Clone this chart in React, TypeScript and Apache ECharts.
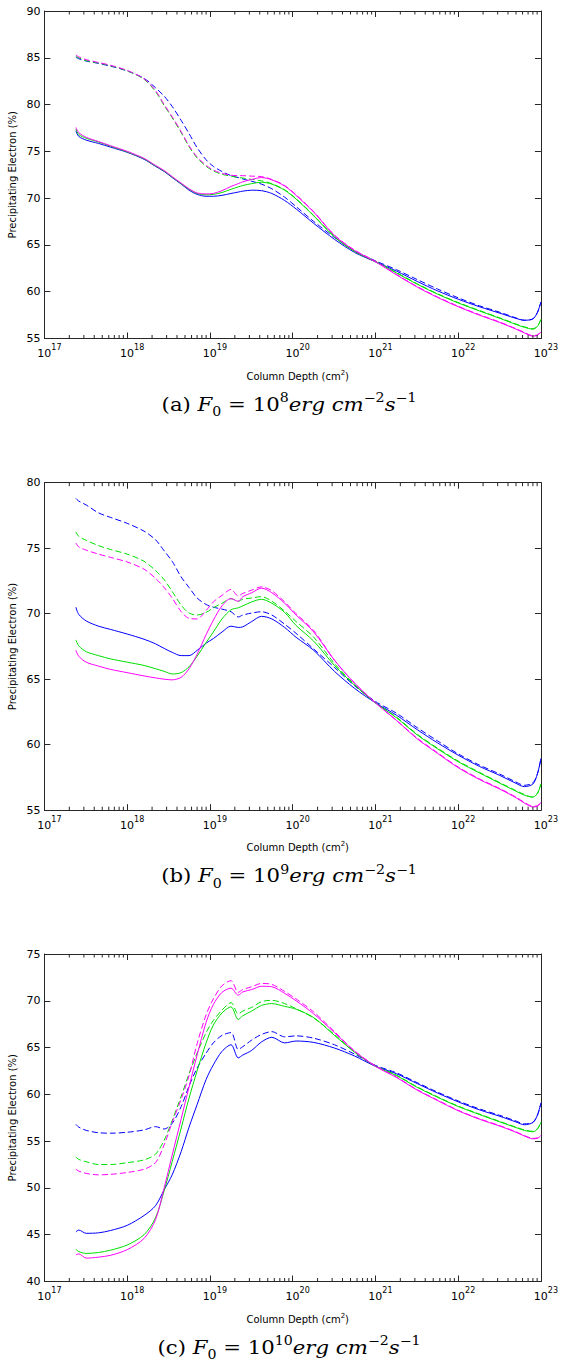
import React, { useEffect, useRef } from 'react';
import * as echarts from 'echarts';

// Column depth sample points (cm^-2)
const DEPTH = [2.4e17, 2.6e17, 3.2e17, 4.5e17, 6.3e17, 1e18, 1.6e18, 2.2e18, 2.8e18, 3.5e18, 4.5e18, 5.6e18, 7e18, 9e18, 1.1e19, 1.4e19, 1.8e19, 2.2e19, 2.5e19, 3.2e19, 4.2e19, 5.6e19, 8e19, 1.1e20, 1.8e20, 3.2e20, 5.6e20, 1e21, 1.8e21, 3.2e21, 5.6e21, 1e22, 1.8e22, 3.2e22, 5e22, 6.3e22, 8e22, 9.1e22, 1e23];

// Panel (a) F0 = 1e8
const A_BLUE = [77.2, 76.6, 76.2, 75.85, 75.45, 74.9, 74.15, 73.4, 72.85, 72.2, 71.5, 70.85, 70.4, 70.2, 70.2, 70.3, 70.5, 70.65, 70.75, 70.85, 70.8, 70.5, 69.75, 68.85, 67.3, 65.6, 64.2, 63.2, 62.2, 61.1, 60.1, 59.2, 58.4, 57.7, 57.15, 56.95, 57.1, 57.8, 58.9];
const A_GREEN = [77.4, 76.8, 76.4, 76.0, 75.55, 74.95, 74.2, 73.45, 72.9, 72.25, 71.55, 70.95, 70.5, 70.35, 70.4, 70.6, 70.95, 71.2, 71.35, 71.55, 71.7, 71.5, 70.85, 69.9, 68.1, 65.85, 64.3, 63.2, 62.0, 60.8, 59.75, 58.8, 57.95, 57.15, 56.5, 56.2, 56.0, 56.3, 57.0];
const A_MAGENTA = [77.55, 77.0, 76.5, 76.05, 75.6, 75.0, 74.25, 73.5, 72.95, 72.3, 71.6, 71.0, 70.55, 70.45, 70.5, 70.8, 71.25, 71.55, 71.75, 72.0, 72.2, 71.95, 71.3, 70.3, 68.5, 66.0, 64.4, 63.2, 61.8, 60.5, 59.4, 58.4, 57.5, 56.7, 56.0, 55.6, 55.25, 55.35, 55.7];
const A_BLUE_D = [85.05, 84.9, 84.65, 84.4, 84.1, 83.6, 82.8, 81.8, 80.9, 79.8, 78.3, 76.9, 75.4, 74.1, 73.4, 72.85, 72.4, 72.2, 72.05, 71.8, 71.5, 71.0, 70.1, 69.1, 67.5, 65.8, 64.35, 63.3, 62.35, 61.3, 60.3, 59.35, 58.5, 57.8, 57.2, 56.95, 57.1, 57.8, 58.9];
const A_GREEN_D = [85.15, 85.0, 84.7, 84.45, 84.15, 83.6, 82.7, 81.4, 79.9, 78.6, 77.0, 75.5, 74.3, 73.4, 72.9, 72.55, 72.35, 72.2, 72.15, 72.0, 71.85, 71.55, 70.9, 69.95, 68.15, 65.9, 64.35, 63.25, 62.05, 60.85, 59.8, 58.85, 58.0, 57.2, 56.55, 56.25, 56.05, 56.35, 57.05];
const A_MAGENTA_D = [85.3, 85.1, 84.8, 84.5, 84.2, 83.65, 82.75, 81.5, 80.0, 78.7, 77.1, 75.6, 74.4, 73.5, 73.0, 72.65, 72.45, 72.4, 72.4, 72.35, 72.3, 72.0, 71.35, 70.35, 68.55, 66.05, 64.45, 63.25, 61.85, 60.55, 59.45, 58.45, 57.55, 56.75, 56.05, 55.65, 55.3, 55.4, 55.75];

// Panel (b) F0 = 1e9
const B_BLUE = [70.5, 69.95, 69.45, 69.05, 68.8, 68.45, 68.05, 67.7, 67.35, 67.05, 66.8, 66.8, 67.2, 67.75, 68.1, 68.6, 69.05, 68.95, 69.0, 69.4, 69.8, 69.6, 68.95, 68.2, 67.2, 65.6, 64.3, 63.2, 62.25, 61.15, 60.15, 59.2, 58.35, 57.65, 57.05, 56.8, 57.0, 57.8, 58.95];
const B_GREEN = [68.0, 67.55, 67.1, 66.8, 66.55, 66.3, 66.05, 65.8, 65.6, 65.4, 65.5, 65.95, 66.75, 67.8, 68.6, 69.6, 70.3, 70.45, 70.6, 70.9, 71.1, 70.8, 70.1, 69.1, 67.9, 66.05, 64.55, 63.2, 62.05, 60.75, 59.7, 58.7, 57.85, 57.05, 56.45, 56.15, 56.0, 56.3, 57.0];
const B_MAGENTA = [67.2, 66.75, 66.3, 66.0, 65.75, 65.5, 65.25, 65.1, 65.0, 64.95, 65.15, 65.8, 66.9, 68.4, 69.5, 70.6, 71.15, 70.95, 71.3, 71.6, 71.95, 71.6, 70.8, 69.9, 68.6, 66.45, 64.7, 63.2, 61.85, 60.45, 59.35, 58.25, 57.35, 56.6, 55.95, 55.55, 55.25, 55.3, 55.6];
const B_BLUE_D = [78.8, 78.6, 78.3, 77.7, 77.35, 76.9, 76.3, 75.65, 74.8, 74.0, 72.8, 72.0, 71.2, 70.7, 70.5, 70.35, 70.15, 69.75, 69.9, 70.05, 70.15, 69.9, 69.2, 68.5, 67.3, 65.9, 64.5, 63.3, 62.4, 61.3, 60.3, 59.3, 58.45, 57.75, 57.15, 56.9, 57.1, 57.8, 58.9];
const B_GREEN_D = [76.25, 75.9, 75.6, 75.2, 74.9, 74.55, 74.0, 73.3, 72.6, 71.7, 70.65, 70.05, 69.9, 70.1, 70.45, 70.8, 71.15, 70.95, 71.1, 71.2, 71.3, 70.95, 70.2, 69.4, 68.2, 66.2, 64.6, 63.2, 62.1, 60.8, 59.75, 58.75, 57.9, 57.1, 56.5, 56.2, 56.0, 56.3, 57.0];
const B_MAGENTA_D = [75.4, 75.1, 74.85, 74.55, 74.3, 73.95, 73.4, 72.7, 72.0, 71.2, 70.15, 69.65, 69.6, 70.25, 70.9, 71.4, 71.85, 71.35, 71.55, 71.8, 72.05, 71.75, 70.9, 70.0, 68.7, 66.45, 64.7, 63.2, 61.85, 60.5, 59.4, 58.3, 57.4, 56.65, 56.0, 55.6, 55.3, 55.35, 55.65];

// Panel (c) F0 = 1e10
const C_BLUE = [45.3, 45.5, 45.15, 45.2, 45.45, 46.0, 47.05, 48.1, 49.8, 51.4, 53.9, 56.5, 58.9, 61.6, 63.15, 64.6, 65.3, 63.9, 64.2, 64.7, 65.6, 66.1, 65.5, 65.7, 65.55, 64.95, 64.1, 63.0, 62.2, 61.15, 60.15, 59.2, 58.35, 57.65, 57.05, 56.75, 57.0, 57.8, 59.1];
const C_GREEN = [43.45, 43.2, 43.0, 43.1, 43.35, 43.9, 45.0, 46.8, 49.7, 52.8, 56.4, 59.6, 62.5, 65.5, 67.4, 68.7, 69.35, 68.0, 68.4, 68.9, 69.5, 69.7, 69.4, 69.1, 68.2, 66.3, 64.5, 63.0, 62.0, 60.75, 59.7, 58.7, 57.85, 57.05, 56.45, 56.15, 56.0, 56.3, 57.0];
const C_MAGENTA = [42.85, 42.95, 42.5, 42.6, 42.8, 43.4, 44.6, 46.6, 50.0, 53.5, 57.4, 60.8, 64.2, 67.7, 69.6, 70.9, 71.35, 70.6, 70.95, 71.2, 71.55, 71.5, 70.8, 70.0, 68.6, 66.6, 64.6, 63.0, 61.8, 60.45, 59.35, 58.25, 57.35, 56.6, 55.95, 55.55, 55.25, 55.3, 55.6];
const C_BLUE_D = [56.8, 56.5, 56.15, 55.9, 55.85, 55.95, 56.2, 56.55, 56.3, 56.9, 58.7, 60.9, 62.8, 64.4, 65.5, 66.3, 66.6, 64.8, 65.1, 65.8, 66.4, 66.7, 66.15, 66.25, 66.0, 65.3, 64.3, 63.1, 62.3, 61.25, 60.25, 59.3, 58.45, 57.75, 57.15, 56.85, 57.0, 57.8, 59.0];
const C_GREEN_D = [53.3, 53.05, 52.8, 52.5, 52.5, 52.7, 53.0, 53.6, 55.1, 57.2, 59.8, 62.2, 64.4, 66.6, 67.9, 69.0, 69.8, 68.6, 68.9, 69.3, 69.9, 70.05, 69.7, 69.15, 68.15, 66.4, 64.55, 63.05, 62.05, 60.8, 59.75, 58.75, 57.9, 57.1, 56.5, 56.2, 56.05, 56.35, 57.05];
const C_MAGENTA_D = [52.0, 51.8, 51.55, 51.4, 51.45, 51.65, 52.0, 52.7, 54.6, 57.0, 59.5, 62.0, 65.4, 68.5, 70.2, 71.6, 72.15, 70.9, 71.2, 71.5, 71.85, 71.75, 71.0, 70.2, 68.8, 66.7, 64.65, 63.05, 61.85, 60.5, 59.4, 58.3, 57.4, 56.65, 56.0, 55.6, 55.3, 55.35, 55.65];

const CAPTION_LETTERS = ['a', 'b', 'c'];
const CAPTION_EXPONENTS = ['8', '9', '10'];
const Y_TITLE = 'Precipitating Electron (%)';
const X_TITLE = 'Column Depth (cm';
const X_MIN = 1e17;
const X_MAX = 1e23;
const Y_RANGES = [[55, 90], [55, 80], [40, 75]];
const PANEL_SERIES = [
  [A_BLUE, A_BLUE_D, A_GREEN, A_GREEN_D, A_MAGENTA, A_MAGENTA_D],
  [B_BLUE, B_BLUE_D, B_GREEN, B_GREEN_D, B_MAGENTA, B_MAGENTA_D],
  [C_BLUE, C_BLUE_D, C_GREEN, C_GREEN_D, C_MAGENTA, C_MAGENTA_D],
];
const SERIES_COLORS = ['#0000ff', '#0000ff', '#00e000', '#00e000', '#ff00ff', '#ff00ff'];
const SERIES_DASHED = [false, true, false, true, false, true];

// layout (pixels)
const W = 561;
const H = 1365;
const GRID_LEFT = 44.4;
const GRID_RIGHT = 10;
const PANEL_TOPS = [11, 482.7, 954];
const PANEL_HEIGHT = 327.5;
const AXIS_COLOR = '#262626';
const SANS = 'DejaVu Sans';
const SERIF = 'DejaVu Serif';

const MINOR_TICKS: number[] = [];
for (let e = 17; e < 23; e++) {
  for (let m = 2; m <= 9; m++) MINOR_TICKS.push(m * Math.pow(10, e));
}

export default function App() {
  const ref = useRef<HTMLDivElement>(null);
  useEffect(() => {
    document.body.style.margin = '0';
    if (!ref.current) return;
    const chart = echarts.init(ref.current, undefined, { renderer: 'svg' });

    const grids: any[] = [];
    const xAxes: any[] = [];
    const yAxes: any[] = [];
    const series: any[] = [];
    const graphics: any[] = [];

    PANEL_TOPS.forEach((top, i) => {
      const [yMin, yMax] = Y_RANGES[i];
      grids.push({ left: GRID_LEFT, right: GRID_RIGHT, top, height: PANEL_HEIGHT });
      const xBase = {
        type: 'log', logBase: 10, gridIndex: i, min: X_MIN, max: X_MAX, splitNumber: 6,
        axisLine: { show: true, onZero: false, lineStyle: { color: AXIS_COLOR, width: 1 } },
        axisTick: { show: true, inside: true, length: 6, lineStyle: { color: AXIS_COLOR, width: 1 } },
        splitLine: { show: false },
        minorTick: { show: false },
      };
      xAxes.push({
        ...xBase, position: 'bottom',
        axisLabel: {
          show: true, margin: 5, showMinLabel: true, showMaxLabel: true,
          formatter: (v: number) => `{p| }{b|10}{s|${Math.round(Math.log10(v))}}`,
          rich: {
            p: { width: 10, fontSize: 8, fontFamily: SANS },
            b: { fontSize: 11, fontFamily: SANS, color: '#000', lineHeight: 20 },
            s: { fontSize: 8, fontFamily: SANS, color: '#000', verticalAlign: 'top' },
          },
        },
      });
      xAxes.push({ ...xBase, position: 'top', axisLabel: { show: false } });
      const yBase = {
        type: 'value', gridIndex: i, min: yMin, max: yMax, interval: 5,
        axisLine: { show: true, onZero: false, lineStyle: { color: AXIS_COLOR, width: 1 } },
        axisTick: { show: true, inside: true, length: 6, lineStyle: { color: AXIS_COLOR, width: 1 } },
        splitLine: { show: false },
      };
      yAxes.push({
        ...yBase, position: 'left',
        axisLabel: { show: true, margin: 4, fontSize: 11, fontFamily: SANS, color: '#000' },
      });
      yAxes.push({ ...yBase, position: 'right', axisLabel: { show: false } });

      PANEL_SERIES[i].forEach((vals, k) => {
        series.push({
          type: 'line',
          xAxisIndex: 2 * i,
          yAxisIndex: 2 * i,
          data: DEPTH.map((d, j) => [d, vals[j]]),
          showSymbol: false,
          smooth: 0.3,
          silent: true,
          lineStyle: {
            color: SERIES_COLORS[k],
            width: 1,
            type: SERIES_DASHED[k] ? [6, 3] : 'solid',
          },
          itemStyle: { color: SERIES_COLORS[k] },
          z: 3,
        });
      });

      series.push({
        type: 'custom',
        xAxisIndex: 2 * i,
        yAxisIndex: 2 * i,
        silent: true,
        clip: false,
        z: 5,
        data: MINOR_TICKS.map((v) => [v, yMin]),
        encode: { x: 0, y: 1 },
        renderItem: (_params: any, api: any) => {
          const x = api.value(0);
          const b = api.coord([x, yMin]);
          const t = api.coord([x, yMax]);
          return {
            type: 'group',
            children: [
              { type: 'line', shape: { x1: b[0], y1: b[1], x2: b[0], y2: b[1] - 3.5 }, style: { stroke: AXIS_COLOR, lineWidth: 1 } },
              { type: 'line', shape: { x1: t[0], y1: t[1], x2: t[0], y2: t[1] + 3.5 }, style: { stroke: AXIS_COLOR, lineWidth: 1 } },
            ],
          };
        },
      });

      const bottom = top + PANEL_HEIGHT;
      const cx = GRID_LEFT + (W - GRID_RIGHT - GRID_LEFT) / 2;
      graphics.push({
        type: 'text', x: 12, y: top + PANEL_HEIGHT / 2, rotation: Math.PI / 2,
        style: {
          text: Y_TITLE, fontSize: 10, fontFamily: SANS, fill: '#000',
          align: 'center', verticalAlign: 'middle', textAlign: 'center', textVerticalAlign: 'middle',
        },
      });
      graphics.push({
        type: 'text', x: cx, y: bottom + 37.5,
        style: {
          text: `{n|${X_TITLE}}{s|2}{n|)}`,
          fill: '#000', fontSize: 10, fontFamily: SANS,
          align: 'center', verticalAlign: 'middle', textAlign: 'center', textVerticalAlign: 'middle',
          rich: {
            n: { fontSize: 10, fontFamily: SANS, lineHeight: 14, fill: '#000' },
            s: { fontSize: 7, fontFamily: SANS, verticalAlign: 'top', fill: '#000' },
          },
        },
      });
      graphics.push({
        type: 'text', x: 289, y: bottom + 66.3, scaleX: 1.18,
        style: {
          text: `{n|(${CAPTION_LETTERS[i]}) }{i|F}{sub|0}{n| = 10}{sup|${CAPTION_EXPONENTS[i]}}{i|erg}{n| }{i|cm}{sup|\u22122}{i|s}{sup|\u22121}`,
          fill: '#000', fontSize: 18, fontFamily: SERIF,
          align: 'center', verticalAlign: 'middle', textAlign: 'center', textVerticalAlign: 'middle',
          rich: {
            n: { fontSize: 18, fontFamily: SERIF, lineHeight: 26, fill: '#000' },
            i: { fontSize: 18, fontFamily: SERIF, fontStyle: 'italic', lineHeight: 26, fill: '#000' },
            sup: { fontSize: 12, fontFamily: SERIF, verticalAlign: 'top', fill: '#000' },
            sub: { fontSize: 12, fontFamily: SERIF, verticalAlign: 'bottom', fill: '#000' },
          },
        },
      });
    });

    chart.setOption({
      animation: false,
      backgroundColor: '#ffffff',
      grid: grids,
      xAxis: xAxes,
      yAxis: yAxes,
      series,
      graphic: { elements: graphics },
    });
    return () => chart.dispose();
  }, []);
  return <div ref={ref} style={{ position: 'absolute', left: 0, top: 0, width: W, height: H }} />;
}
